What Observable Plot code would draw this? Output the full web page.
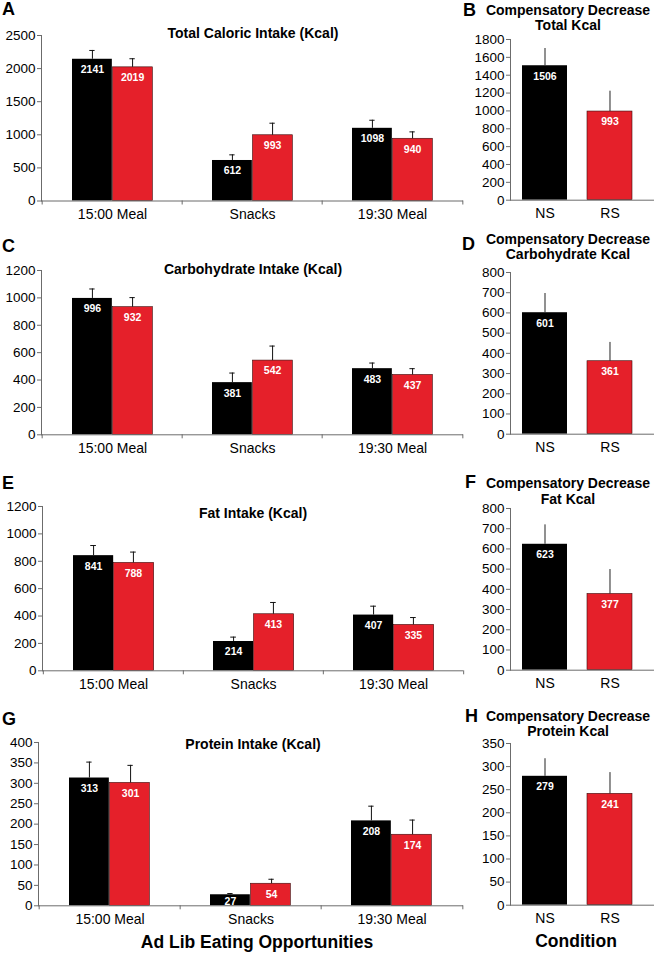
<!DOCTYPE html>
<html><head><meta charset="utf-8">
<script src="https://cdn.jsdelivr.net/npm/d3@7"></script>
<script src="https://cdn.jsdelivr.net/npm/@observablehq/plot@0.6"></script>
<style>
body{margin:0;background:#fff;}
#fig{position:relative;width:660px;height:953px;font-family:"Liberation Sans",Arial,sans-serif;color:#000;overflow:hidden;background:#fff;}
.lab{position:absolute;transform:translate(-50%,-50%);white-space:nowrap;font-weight:bold;line-height:1;}
.letter{position:absolute;transform:translateY(-50%);font-weight:bold;font-size:18px;line-height:1;}
.panel{position:absolute;}
</style></head><body><div id="fig"></div>
<script>
// ---------------- data ----------------
const categories = ["15:00 Meal", "Snacks", "19:30 Meal"];
const conditions = ["NS", "RS"];

const totalNS = [2141, 612, 1098];
const totalRS = [2019, 993, 940];
const totalNSse = [133, 85, 122];
const totalRSse = [130, 182, 104];

const carbNS = [996, 381, 483];
const carbRS = [932, 542, 437];
const carbNSse = [69, 70, 41];
const carbRSse = [70, 106, 46];

const fatNS = [841, 214, 407];
const fatRS = [788, 413, 335];
const fatNSse = [74, 32, 65];
const fatRSse = [79, 86, 54];

const protNS = [313, 27, 208];
const protRS = [301, 54, 174];
const protNSse = [39, 3, 36];
const protRSse = [43, 11, 36];

const compTotal = [1506, 993];
const compTotalSe = [193, 228];
const compCarb = [601, 361];
const compCarbSe = [95, 93];
const compFat = [623, 377];
const compFatSe = [96, 121];
const compProt = [279, 241];
const compProtSe = [38, 46];

const ticksTotal = [0, 500, 1000, 1500, 2000, 2500];
const ticksCompTotal = [0, 200, 400, 600, 800, 1000, 1200, 1400, 1600, 1800];
const ticksCarb = [0, 200, 400, 600, 800, 1000, 1200];
const ticksCompCarb = [0, 100, 200, 300, 400, 500, 600, 700, 800];
const ticksFat = [0, 200, 400, 600, 800, 1000, 1200];
const ticksCompFat = [0, 100, 200, 300, 400, 500, 600, 700, 800];
const ticksProt = [0, 50, 100, 150, 200, 250, 300, 350, 400];
const ticksCompProt = [0, 50, 100, 150, 200, 250, 300, 350];

const leftTitles = ["Total Caloric Intake (Kcal)", "Carbohydrate Intake (Kcal)", "Fat Intake (Kcal)", "Protein Intake (Kcal)"];
const rightTitles = [["Compensatory Decrease", "Total Kcal"], ["Compensatory Decrease", "Carbohydrate Kcal"], ["Compensatory Decrease", "Fat Kcal"], ["Compensatory Decrease", "Protein Kcal"]];
const letters = ["A", "B", "C", "D", "E", "F", "G", "H"];
const xTitleLeft = "Ad Lib Eating Opportunities";
const xTitleRight = "Condition";

// ---------------- style ----------------
const BLACK = "#000000";
const RED = "#e5202a";
const AXIS = "#6b6b6b";
const FONT = '"Liberation Sans", Arial, sans-serif';
const fig = document.getElementById("fig");

function addDiv(cls, text, x, y, size) {
  const d = document.createElement("div");
  d.className = cls;
  d.textContent = text;
  d.style.left = x + "px";
  d.style.top = y + "px";
  if (size) d.style.fontSize = size + "px";
  fig.appendChild(d);
}

function place(svg, left, top) {
  const w = document.createElement("div");
  w.className = "panel";
  w.style.left = left + "px";
  w.style.top = top + "px";
  w.appendChild(svg);
  fig.appendChild(w);
}

// ---------------- left grouped panels ----------------
function leftPanel(p) {
  const top = p.yTop - 12, mb = 28, height = p.yZero + mb - top;
  const width = 470, ml = p.axisX, mr = 7;
  const step = (width - ml - mr) / categories.length;
  const barW = 40.5, outer = 30;
  const ns = categories.map((c, i) => ({cat: c, v: p.ns[i], se: p.nsSe[i]}));
  const rs = categories.map((c, i) => ({cat: c, v: p.rs[i], se: p.rsSe[i]}));
  const dxNS = outer + barW / 2 - step / 2, dxRS = -dxNS;
  const ymax = p.ticks[p.ticks.length - 1];
  const capInset = (step - 6) / 2;
  const labY = d => Math.max(d.v, ymax * 0.09);
  const svg = Plot.plot({
    width, height, marginLeft: ml, marginRight: mr, marginTop: 12, marginBottom: mb,
    style: {fontFamily: FONT, fontSize: "14px", color: "#000", background: "transparent", overflow: "visible"},
    x: {type: "band", domain: categories, padding: 0},
    y: {domain: [0, ymax]},
    marks: [
      Plot.barY(ns, {x: "cat", y: "v", fill: BLACK, insetLeft: outer, insetRight: step - outer - barW}),
      Plot.barY(rs, {x: "cat", y: "v", fill: RED, stroke: "#3a0b0b", strokeWidth: 0.6, insetLeft: outer + barW, insetRight: step - outer - 2 * barW}),
      Plot.ruleX(ns, {x: "cat", y1: "v", y2: d => d.v + d.se, dx: dxNS, stroke: "#111"}),
      Plot.ruleX(rs, {x: "cat", y1: "v", y2: d => d.v + d.se, dx: dxRS, stroke: "#111"}),
      Plot.tickY(ns, {x: "cat", y: d => d.v + d.se, dx: dxNS, insetLeft: capInset, insetRight: capInset, stroke: "#111"}),
      Plot.tickY(rs, {x: "cat", y: d => d.v + d.se, dx: dxRS, insetLeft: capInset, insetRight: capInset, stroke: "#111"}),
      Plot.text(ns, {x: "cat", y: labY, text: d => String(d.v), dx: dxNS, dy: 10.5, fill: "white", fontWeight: "bold", fontSize: 10.5}),
      Plot.text(rs, {x: "cat", y: labY, text: d => String(d.v), dx: dxRS, dy: 10.5, fill: "white", fontWeight: "bold", fontSize: 10.5}),
      Plot.ruleY([0], {stroke: AXIS}),
      Plot.frame({anchor: "left", stroke: AXIS}),
      Plot.axisY({ticks: p.ticks, tickFormat: d => String(d), label: null, tickSize: 4, tickPadding: 2, fontSize: 13.5, stroke: AXIS, fill: "#000"}),
      Plot.axisX({label: null, tickSize: 0, tickPadding: 8, fontSize: 14, fill: "#000"}),
      Plot.axisX({label: null, ticks: categories, tickSize: 4, dx: -step / 2, tickFormat: () => "", stroke: AXIS}),
      Plot.axisX({label: null, ticks: [categories[categories.length - 1]], tickSize: 4, dx: step / 2, tickFormat: () => "", stroke: AXIS})
    ]
  });
  place(svg, 0, top);
  addDiv("lab", p.title, p.titleX, p.titleY, 14);
  addDiv("letter", p.letter, 2, p.letterY);
}

// ---------------- right two-bar panels ----------------
function rightPanel(p) {
  const top = p.yTop - 12, mb = 28, height = p.yZero + mb - top;
  const width = 200, ml = 50, mr = 6;
  const ymax = p.ticks[p.ticks.length - 1];
  const rows = conditions.map((c, i) => ({cond: c, v: p.values[i], se: p.se[i]}));
  const ns = rows.filter(d => d.cond === "NS"), rs = rows.filter(d => d.cond === "RS");
  const svg = Plot.plot({
    width, height, marginLeft: ml, marginRight: mr, marginTop: 12, marginBottom: mb,
    style: {fontFamily: FONT, fontSize: "14px", color: "#000", background: "transparent", overflow: "visible"},
    x: {type: "band", domain: conditions, paddingInner: 0.31, paddingOuter: 0.178, insetRight: 10},
    y: {domain: [0, ymax]},
    marks: [
      Plot.barY(ns, {x: "cond", y: "v", fill: BLACK}),
      Plot.barY(rs, {x: "cond", y: "v", fill: RED, stroke: "#3a0b0b", strokeWidth: 0.6}),
      Plot.ruleX(rows, {x: "cond", y1: "v", y2: d => d.v + d.se, stroke: "#222"}),
      Plot.text(rows, {x: "cond", y: "v", text: d => String(d.v), dy: 10.5, fill: "white", fontWeight: "bold", fontSize: 10.5}),
      Plot.ruleY([0], {stroke: AXIS}),
      Plot.frame({anchor: "left", stroke: AXIS}),
      Plot.axisY({ticks: p.ticks, tickFormat: d => String(d), label: null, tickSize: 4, tickPadding: 2, fontSize: 13.5, stroke: AXIS, fill: "#000"}),
      Plot.axisX({label: null, tickSize: 0, tickPadding: 8, fontSize: 14, fill: "#000"})
    ]
  });
  place(svg, 460, top);
  addDiv("lab", p.title[0], 568, p.t1Y, 14);
  addDiv("lab", p.title[1], 568, p.t2Y, 14);
  addDiv("letter", p.letter, p.letterX, p.letterY);
}

leftPanel({letter: letters[0], title: leftTitles[0], ns: totalNS, rs: totalRS, nsSe: totalNSse, rsSe: totalRSse, ticks: ticksTotal, yTop: 34.5, yZero: 200, axisX: 41, titleX: 253, titleY: 32.5, letterY: 8.5});
leftPanel({letter: letters[2], title: leftTitles[1], ns: carbNS, rs: carbRS, nsSe: carbNSse, rsSe: carbRSse, ticks: ticksCarb, yTop: 270, yZero: 434.3, axisX: 41, titleX: 253, titleY: 269, letterY: 246});
leftPanel({letter: letters[4], title: leftTitles[2], ns: fatNS, rs: fatRS, nsSe: fatNSse, rsSe: fatRSse, ticks: ticksFat, yTop: 505.7, yZero: 670, axisX: 42, titleX: 253, titleY: 512.7, letterY: 482.5});
leftPanel({letter: letters[6], title: leftTitles[3], ns: protNS, rs: protRS, nsSe: protNSse, rsSe: protRSse, ticks: ticksProt, yTop: 741.7, yZero: 905, axisX: 38, titleX: 253, titleY: 744, letterY: 719});

rightPanel({letter: letters[1], title: rightTitles[0], values: compTotal, se: compTotalSe, ticks: ticksCompTotal, yTop: 39.3, yZero: 200, t1Y: 10, t2Y: 25, letterX: 463, letterY: 10});
rightPanel({letter: letters[3], title: rightTitles[1], values: compCarb, se: compCarbSe, ticks: ticksCompCarb, yTop: 272.3, yZero: 434, t1Y: 239, t2Y: 254, letterX: 462, letterY: 244});
rightPanel({letter: letters[5], title: rightTitles[2], values: compFat, se: compFatSe, ticks: ticksCompFat, yTop: 508.3, yZero: 670, t1Y: 483, t2Y: 499, letterX: 465, letterY: 482});
rightPanel({letter: letters[7], title: rightTitles[3], values: compProt, se: compProtSe, ticks: ticksCompProt, yTop: 743.3, yZero: 905, t1Y: 716, t2Y: 731, letterX: 465, letterY: 716});

addDiv("lab", xTitleLeft, 257, 943, 17.5);
addDiv("lab", xTitleRight, 576, 942, 17.5);
</script>
</body></html>
